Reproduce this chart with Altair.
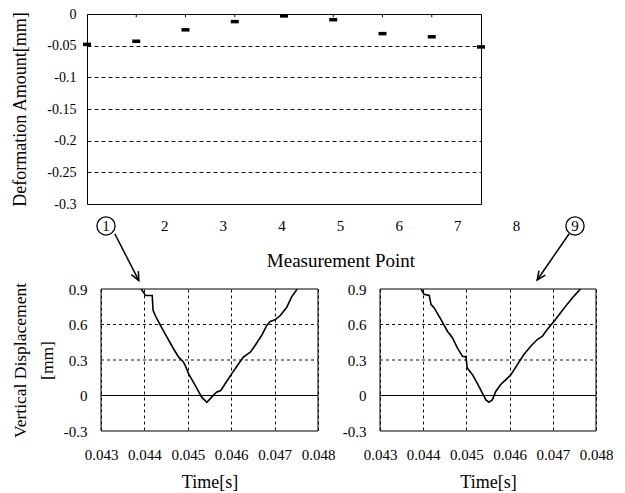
import altair as alt
import pandas as pd

FONT = "Liberation Serif"

# ---------------- top chart data ----------------
points = [1, 2, 3, 4, 5, 6, 7, 8, 9]
deformation = [-0.048, -0.043, -0.025, -0.012, -0.003, -0.009, -0.031, -0.036, -0.052]
point_labels = ["1", "2", "3", "4", "5", "6", "7", "8", "9"]
top_y_ticks = [0, -0.05, -0.1, -0.15, -0.2, -0.25, -0.3]
circled_points = [1, 9]

# annotation arrows (in measurement-point label units / deformation units)
arrow_x_start = [1.15, 8.90]
arrow_y_start = [-0.347, -0.347]
arrow_x_end = [1.56, 8.355]
arrow_y_end = [-0.421, -0.420]
arrow_angle = [333, 35]

# ---------------- bottom charts data ----------------
time_p1 = [0.04392, 0.04398, 0.04402, 0.04418, 0.04420, 0.04425, 0.04437, 0.04452,
           0.04467, 0.04479, 0.04489, 0.04494, 0.04502, 0.04517, 0.04532, 0.04544,
           0.04555, 0.04566, 0.04576, 0.04586, 0.04601, 0.04617, 0.04628, 0.04644,
           0.04655, 0.04670, 0.04682, 0.04690, 0.04701, 0.04713, 0.04728, 0.04739,
           0.04752]
disp_p1 = [0.90, 0.873, 0.845, 0.845, 0.719, 0.676, 0.592, 0.493,
           0.395, 0.324, 0.287, 0.254, 0.183, 0.085, -0.014, -0.057,
           -0.014, 0.028, 0.042, 0.099, 0.183, 0.268, 0.324, 0.366,
           0.423, 0.507, 0.592, 0.626, 0.640, 0.676, 0.746, 0.831,
           0.90]
time_p9 = [0.04395, 0.04402, 0.04414, 0.04418, 0.04425, 0.04441, 0.04456, 0.04468,
           0.04479, 0.04491, 0.04499, 0.04502, 0.04514, 0.04525, 0.04537, 0.04545,
           0.04552, 0.04560, 0.04568, 0.04579, 0.04595, 0.04603, 0.04618, 0.04633,
           0.04649, 0.04664, 0.04676, 0.04687, 0.04703, 0.04718, 0.04733, 0.04749,
           0.04764]
disp_p9 = [0.90, 0.855, 0.846, 0.77, 0.742, 0.643, 0.543, 0.486,
           0.402, 0.331, 0.325, 0.232, 0.176, 0.104, 0.02, -0.037,
           -0.057, -0.037, 0.034, 0.091, 0.147, 0.176, 0.261, 0.346,
           0.416, 0.473, 0.501, 0.558, 0.628, 0.699, 0.77, 0.84,
           0.90]
x_domain_bottom = [0.043, 0.048]
y_domain_bottom = [-0.3, 0.9]
x_ticks_bottom = [0.043, 0.044, 0.045, 0.046, 0.047, 0.048]
y_ticks_bottom = [-0.3, 0, 0.3, 0.6, 0.9]
y_grid_bottom = [0.3, 0.6]

# ---------------- top chart ----------------
TOP_W, TOP_H = 394, 190
ytop_scale = alt.Scale(domain=[-0.3, 0], nice=False, zero=False)
ytop_axis = alt.Axis(values=top_y_ticks, tickCount=20, labelExpr="'' + datum.value",
                     grid=True, gridDash=[4, 3], gridColor="#111111", gridWidth=1,
                     ticks=False, tickSize=0, domain=False, labelPadding=11,
                     labelFontSize=14, labelOverlap=False, labelFlush=False,
                     title="Deformation Amount[mm]",
                     titleFontSize=18, titlePadding=17)
xmain_scale = alt.Scale(domain=[1, 9], nice=False, zero=False)
xlab_scale = alt.Scale(domain=[1, 9], range=[19, 488], nice=False, zero=False)

top_df = pd.DataFrame({"point": points, "deformation": deformation})
marks = alt.Chart(top_df).mark_tick(orient="horizontal", size=8, thickness=3.5,
                                    color="black", opacity=1).encode(
    x=alt.X("point:Q", scale=xmain_scale, axis=None),
    y=alt.Y("deformation:Q", scale=ytop_scale, axis=ytop_axis),
)

tick_df = pd.DataFrame({"point": points[1:-1]})
top_ticks = alt.Chart(tick_df).mark_rule(color="black", strokeWidth=1).encode(
    x=alt.X("point:Q", scale=xmain_scale, axis=None),
    y=alt.YDatum(0, scale=ytop_scale, axis=ytop_axis),
    y2=alt.datum(-0.005),
)

lab_df = pd.DataFrame({"pos": points, "label": point_labels})
labels = alt.Chart(lab_df).mark_text(font=FONT, fontSize=15, color="black").encode(
    x=alt.X("pos:Q", scale=xlab_scale,
            axis=alt.Axis(orient="bottom", labels=False, ticks=False, tickSize=0,
                          domain=False, grid=False, title="Measurement Point",
                          titleFontSize=19, titlePadding=47)),
    y=alt.YDatum(-0.3347, scale=ytop_scale, axis=ytop_axis),
    text="label:N",
)

circ_df = pd.DataFrame({"pos": circled_points})
circles = alt.Chart(circ_df).mark_point(shape="circle", size=330, filled=False,
                                         color="black", strokeWidth=1.3, opacity=1).encode(
    x=alt.X("pos:Q", scale=xlab_scale, axis=None),
    y=alt.YDatum(-0.3347, scale=ytop_scale, axis=ytop_axis),
)

arr_df = pd.DataFrame({"x0": arrow_x_start, "y0": arrow_y_start,
                       "x1": arrow_x_end, "y1": arrow_y_end, "ang": arrow_angle})
arrows = alt.Chart(arr_df).mark_rule(color="black", strokeWidth=1.5).encode(
    x=alt.X("x0:Q", scale=xlab_scale, axis=None),
    x2="x1:Q",
    y=alt.Y("y0:Q", scale=ytop_scale, axis=ytop_axis),
    y2="y1:Q",
)
heads = alt.Chart(arr_df).mark_point(shape="M-0.45,-1L0,0L0.45,-1", size=300,
                                      filled=False, color="black", strokeWidth=1.5,
                                      opacity=1).encode(
    x=alt.X("x1:Q", scale=xlab_scale, axis=None),
    y=alt.Y("y1:Q", scale=ytop_scale, axis=ytop_axis),
    angle=alt.Angle("ang:Q", scale=None),
)

top = alt.layer(marks, top_ticks, labels, circles, arrows, heads).resolve_scale(
    x="independent").properties(width=TOP_W, height=TOP_H)


# ---------------- bottom charts (one layered view, two panels) ----------------
BOTTOM_W, BH = 509, 142
LEFT_RANGE = [14, 231]
RIGHT_RANGE = [293, 509]

one_row = pd.DataFrame({"k": [0]})


def panel_layers(times, disps, xrange, y_offset, y_title):
    df = pd.DataFrame({"t": times, "d": disps})
    xs = alt.Scale(domain=x_domain_bottom, range=xrange, nice=False, zero=False)
    ys = alt.Scale(domain=y_domain_bottom, nice=False, zero=False)
    xax = alt.Axis(orient="bottom", values=x_ticks_bottom, tickCount=20,
                   labelExpr="'' + datum.value", title="Time[s]",
                   grid=True, gridDash=[3, 3], gridColor="#111111", ticks=False,
                   tickSize=0, domain=False, labelPadding=16, titlePadding=11,
                   labelFontSize=15, titleFontSize=18, labelOverlap=False,
                   labelFlush=False)
    if y_title:
        yax = alt.Axis(orient="left", offset=y_offset, values=y_ticks_bottom,
                       tickCount=20, labelExpr="'' + datum.value", grid=False,
                       ticks=False, tickSize=0, domain=False, labelPadding=14,
                       labelFontSize=15, labelOverlap=False, labelFlush=False,
                       title=y_title, titleFontSize=17.5, titlePadding=7,
                       titleLineHeight=27)
        ydef = alt.Y("d:Q", scale=ys, axis=yax)
    else:
        yax = alt.Axis(orient="left", offset=y_offset, values=y_ticks_bottom,
                       tickCount=20, labelExpr="'' + datum.value", grid=False,
                       ticks=False, tickSize=0, domain=False, labelPadding=14,
                       labelFontSize=15, labelOverlap=False, labelFlush=False)
        ydef = alt.Y("d:Q", scale=ys, axis=yax, title=None)

    grid = alt.Chart(pd.DataFrame({"g": y_grid_bottom})).mark_rule(
        color="#111111", strokeWidth=1, strokeDash=[3, 3]).encode(
        x=alt.XDatum(x_domain_bottom[0], scale=xs, axis=None),
        x2=alt.datum(x_domain_bottom[1]),
        y=alt.Y("g:Q", scale=ys, axis=None),
    )
    zero = alt.Chart(one_row).mark_rule(color="black", strokeWidth=1).encode(
        x=alt.XDatum(x_domain_bottom[0], scale=xs, axis=None),
        x2=alt.datum(x_domain_bottom[1]),
        y=alt.YDatum(0, scale=ys, axis=None),
    )
    line = alt.Chart(df).mark_line(color="black", strokeWidth=1.6, clip=True).encode(
        x=alt.X("t:Q", scale=xs, axis=xax), y=ydef)
    frame = alt.Chart(one_row).mark_rect(fillOpacity=0, stroke="black",
                                         strokeWidth=1).encode(
        x=alt.XDatum(x_domain_bottom[0], scale=xs, axis=None),
        x2=alt.datum(x_domain_bottom[1]),
        y=alt.YDatum(y_domain_bottom[0], scale=ys, axis=None),
        y2=alt.datum(y_domain_bottom[1]),
    )
    return [grid, zero, line, frame]


layers = (panel_layers(time_p1, disp_p1, LEFT_RANGE, -LEFT_RANGE[0],
                       ["Vertical Displacement", "[mm]"])
          + panel_layers(time_p9, disp_p9, RIGHT_RANGE, -RIGHT_RANGE[0], None))

bottom = alt.layer(*layers).resolve_scale(x="independent", y="independent").properties(
    width=BOTTOM_W, height=BH, view=alt.ViewBackground(stroke="transparent"))

chart = alt.vconcat(
    top, bottom, spacing=85, bounds="flush",
    padding={"left": 2, "top": -2, "right": 0, "bottom": 0},
).configure(font=FONT).configure_axis(
    labelFont=FONT, titleFont=FONT, labelColor="black", titleColor="black",
    titleFontWeight="normal",
).configure_view(stroke="black", strokeWidth=1)

chart.save("out.html", embed_options={"renderer": "svg", "actions": False})
